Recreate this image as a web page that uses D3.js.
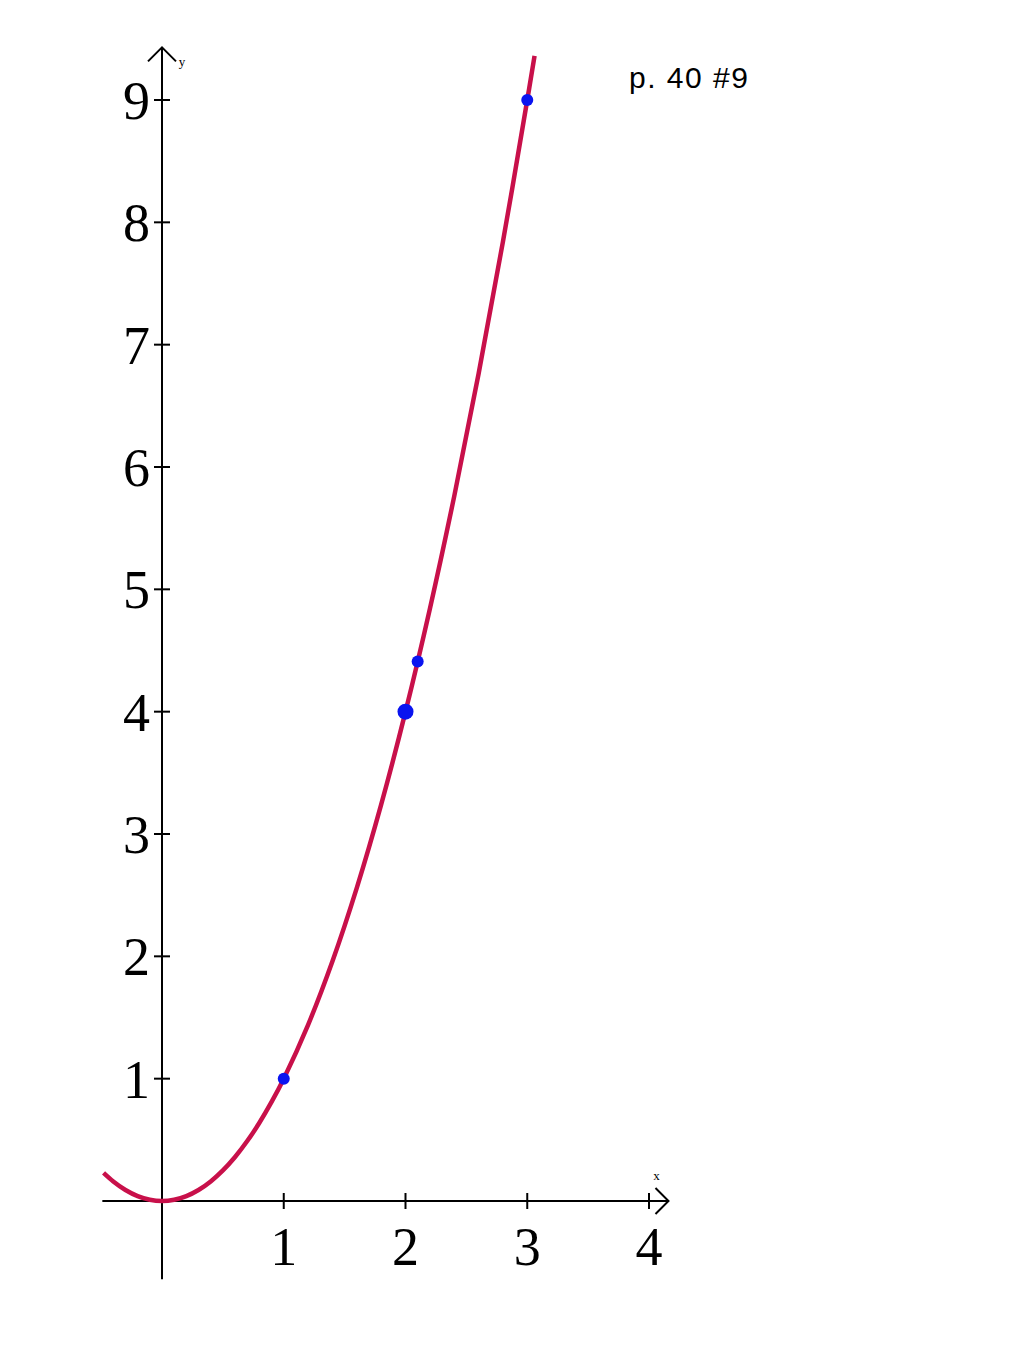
<!DOCTYPE html>
<html><head><meta charset="utf-8">
<script src="https://cdn.jsdelivr.net/npm/d3@7"></script>
<style>body{margin:0;background:#fff}svg{display:block}</style>
</head><body>
<script>
const curveX = [-0.48,-0.4,-0.3,-0.2,-0.1,0,0.1,0.2,0.3,0.4,0.5,0.6,0.7,0.8,0.9,1.0,1.2,1.4,1.6,1.8,2.0,2.2,2.4,2.6,2.8,3.0,3.06];
const curveY = [0.23,0.16,0.09,0.04,0.01,0,0.01,0.04,0.09,0.16,0.25,0.36,0.49,0.64,0.81,1.0,1.44,1.96,2.56,3.24,4.0,4.84,5.76,6.76,7.84,9.0,9.36];
const pointsX = [1,2,2.1,3];
const pointsY = [1,4,4.41,9];
const pointR = [6,8,6,6];
const xTicks = [1,2,3,4];
const yTicks = [1,2,3,4,5,6,7,8,9];
const title = "p. 40 #9";

const W=1024,H=1365;
const svg=d3.select("body").append("svg").attr("width",W).attr("height",H);
const x=d3.scaleLinear().domain([0,4]).range([162,649]);
const y=d3.scaleLinear().domain([0,9]).range([1201,100]);
const serif="'Liberation Serif','Times New Roman',serif";

// axes
const ax=svg.append("g").attr("stroke","#000").attr("stroke-width",2).attr("fill","none");
ax.append("line").attr("x1",x(-0.49)).attr("x2",x(4.16)).attr("y1",y(0)).attr("y2",y(0));
ax.append("line").attr("x1",x(0)).attr("x2",x(0)).attr("y1",y(-0.64)).attr("y2",y(9.43));
// arrowheads
ax.append("path").attr("d",`M${x(4.16)-13},${y(0)-13}L${x(4.16)},${y(0)}L${x(4.16)-13},${y(0)+13}`);
ax.append("path").attr("d",`M${x(0)-14},${y(9.43)+14}L${x(0)},${y(9.43)}L${x(0)+14},${y(9.43)+14}`);
// ticks
xTicks.forEach(t=>ax.append("line").attr("x1",x(t)).attr("x2",x(t)).attr("y1",y(0)-8).attr("y2",y(0)+8));
yTicks.forEach(t=>ax.append("line").attr("x1",x(0)-8).attr("x2",x(0)+8).attr("y1",y(t)).attr("y2",y(t)));

// tick labels
svg.append("g").selectAll("text").data(xTicks).join("text")
  .attr("x",d=>x(d)).attr("y",1265).attr("text-anchor","middle")
  .attr("font-family",serif).attr("font-size",54).text(d=>d);
svg.append("g").selectAll("text").data(yTicks).join("text")
  .attr("x",150).attr("y",d=>y(d)+19).attr("text-anchor","end")
  .attr("font-family",serif).attr("font-size",54).text(d=>d);

// axis names
svg.append("text").attr("x",x(4.16)-12).attr("y",y(0)-21).attr("text-anchor","middle")
  .attr("font-family",serif).attr("font-size",13).text("x");
svg.append("text").attr("x",x(0)+20).attr("y",y(9.43)+19).attr("text-anchor","middle")
  .attr("font-family",serif).attr("font-size",13).text("y");

// curve
const line=d3.line().x((d,i)=>x(curveX[i])).y((d,i)=>y(curveY[i])).curve(d3.curveCatmullRom);
svg.append("path").datum(curveX).attr("d",line).attr("fill","none")
  .attr("stroke","#c8104a").attr("stroke-width",4.5).attr("stroke-linecap","butt");

// points
svg.append("g").selectAll("circle").data(pointsX).join("circle")
  .attr("cx",d=>x(d)).attr("cy",(d,i)=>y(pointsY[i])).attr("r",(d,i)=>pointR[i]).attr("fill","#0a14f0");

// title
svg.append("text").attr("x",629).attr("y",88).attr("font-family","'Liberation Sans',Arial,sans-serif")
  .attr("font-size",30).attr("letter-spacing",1.5).text(title);
</script>
</body></html>
